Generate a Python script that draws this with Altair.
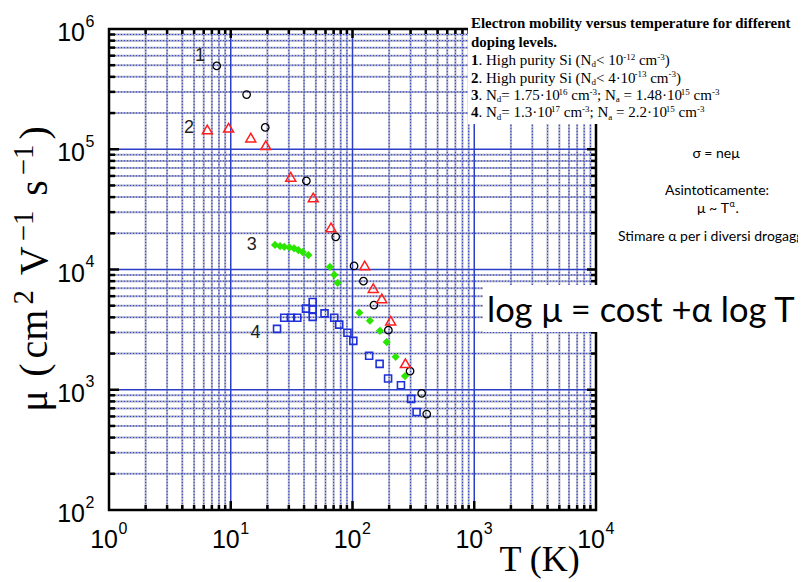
import altair as alt
import pandas as pd

# ---------------- data ----------------
s1_T = [7.67, 13.5, 19.2, 41.8, 72.8, 103, 123, 150, 197, 297, 370, 407]
s1_mu = [4.93e5, 2.85e5, 1.52e5, 5.46e4, 1.87e4, 1.07e4, 8.0e3, 5.06e3, 3.13e3, 1.43e3, 933, 628]

s2_T = [6.42, 9.6, 14.6, 19.4, 31.1, 47.6, 66.6, 126, 148, 174, 206, 272]
s2_mu = [1.46e5, 1.51e5, 1.25e5, 1.08e5, 5.9e4, 3.97e4, 2.24e4, 1.08e4, 7.0e3, 5.75e3, 3.75e3, 1.66e3]

s3_T = [23.1, 25.4, 27.5, 30.3, 33.1, 35.9, 39.0, 43.4, 65.3, 70.9, 75.5, 113.7, 139, 168, 191, 226, 270]
s3_mu = [1.60e4, 1.565e4, 1.544e4, 1.526e4, 1.50e4, 1.45e4, 1.395e4, 1.318e4, 1.05e4, 9.04e3, 7.75e3,
         4.37e3, 3.75e3, 3.09e3, 2.49e3, 1.88e3, 1.30e3]

s4_T = [24.0, 27.5, 31.2, 35.2, 41.5, 47.1, 47.1, 47.1, 58.9, 70.8, 77.8, 90.9, 101.6, 137, 167, 196, 250, 303, 336]
s4_mu = [3.21e3, 3.97e3, 3.97e3, 3.97e3, 4.73e3, 5.36e3, 4.66e3, 4.04e3, 4.32e3, 3.97e3, 3.48e3, 2.98e3,
         2.55e3, 1.92e3, 1.64e3, 1.24e3, 1.09e3, 840, 653]

series_labels = ["1", "2", "3", "4"]
series_label_T = [5.59, 4.54, 14.9, 16.0]
series_label_mu = [5.94e5, 1.49e5, 1.6e4, 2.94e3]

x_decades = [1, 10, 100, 1000, 10000]
y_decades = [100, 1000, 10000, 100000, 1000000]
x_exponents = ["0", "1", "2", "3", "4"]
y_exponents = ["2", "3", "4", "5", "6"]

# ---------------- layout ----------------
W, H = 487, 481
PL, PT, PR, PB = 101, 21, 202, 72
OX, OY = 8 + PL, 8 + PT  # page position of plot origin


def T_of(page_x):
    return 10 ** (4 * (page_x - OX) / W)


def mu_of(page_y):
    return 10 ** (6 - 4 * (page_y - OY) / H)


xs = alt.Scale(type="log", domain=[1, 10000], nice=False)
ys = alt.Scale(type="log", domain=[100, 1e6], nice=False)
X = lambda f: alt.X(f, type="quantitative", scale=xs, axis=None)
Y = lambda f: alt.Y(f, type="quantitative", scale=ys, axis=None)
one = pd.DataFrame({"a": [0]})

minor_x = [d * m for d in x_decades[:-1] for m in range(2, 10)]
major_x = x_decades[1:-1]
minor_y = [d * m for d in y_decades[:-1] for m in range(2, 10)]
major_y = y_decades[1:-1]

gx_minor = pd.DataFrame({"T": minor_x})
gx_major = pd.DataFrame({"T": major_x})
gy_minor = pd.DataFrame({"mu": minor_y})
gy_major = pd.DataFrame({"mu": major_y})

GRAY = "#a8abc8"
BLUE = "#2c3ec8"

layers = []
# grid
layers.append(alt.Chart(gx_minor).mark_rule(color=GRAY, strokeWidth=2).encode(x=X("T")))
layers.append(alt.Chart(gy_minor).mark_rule(color=GRAY, strokeWidth=2).encode(y=Y("mu")))
layers.append(alt.Chart(gx_minor).mark_rule(color=BLUE, strokeWidth=1, strokeDash=[1, 2]).encode(x=X("T")))
layers.append(alt.Chart(gy_minor).mark_rule(color=BLUE, strokeWidth=1, strokeDash=[1, 2]).encode(y=Y("mu")))
layers.append(alt.Chart(gx_major).mark_rule(color=BLUE, strokeWidth=1.5).encode(x=X("T")))
layers.append(alt.Chart(gy_major).mark_rule(color=BLUE, strokeWidth=1.5).encode(y=Y("mu")))


# inward ticks
def tick_layers(df_x, df_y, ln, sw):
    out = []
    out.append(alt.Chart(df_x).mark_rule(color="black", strokeWidth=sw).encode(
        x=X("T"), y=alt.value(H), y2=alt.value(H - ln)))
    out.append(alt.Chart(df_x).mark_rule(color="black", strokeWidth=sw).encode(
        x=X("T"), y=alt.value(0), y2=alt.value(ln)))
    out.append(alt.Chart(df_y).mark_rule(color="black", strokeWidth=sw).encode(
        y=Y("mu"), x=alt.value(0), x2=alt.value(ln + 1)))
    out.append(alt.Chart(df_y).mark_rule(color="black", strokeWidth=sw).encode(
        y=Y("mu"), x=alt.value(W), x2=alt.value(W - ln)))
    return out


layers += tick_layers(gx_minor, gy_minor, 5, 2.5)
layers += tick_layers(gx_major, gy_major, 9, 2.5)

# frame
layers.append(alt.Chart(one).mark_rect(fillOpacity=0, stroke="black", strokeWidth=2.5).encode(
    x=alt.value(0), x2=alt.value(W), y=alt.value(0), y2=alt.value(H)))

# tick labels: "10" plus raised exponent
xl = pd.DataFrame({"T": x_decades, "e": x_exponents, "b": ["10"] * 5})
yl = pd.DataFrame({"mu": y_decades, "e": y_exponents, "b": ["10"] * 5})
LAB_FONT = "Liberation Sans"
layers.append(alt.Chart(xl).mark_text(font=LAB_FONT, fontSize=25, align="right", baseline="alphabetic",
                                      dx=9, color="black").encode(x=X("T"), y=alt.value(H + 38), text="b:N"))
layers.append(alt.Chart(xl).mark_text(font=LAB_FONT, fontSize=16, align="left", baseline="alphabetic",
                                      dx=9.5, color="black").encode(x=X("T"), y=alt.value(H + 24),
                                                                     text="e:N"))
layers.append(alt.Chart(yl).mark_text(font=LAB_FONT, fontSize=25, align="right", baseline="alphabetic",
                                      dy=12, color="black").encode(y=Y("mu"), x=alt.value(-24), text="b:N"))
layers.append(alt.Chart(yl).mark_text(font=LAB_FONT, fontSize=16, align="left", baseline="alphabetic",
                                      dy=-2.5, color="black").encode(y=Y("mu"), x=alt.value(-23.5),
                                                                      text="e:N"))

# series
d1 = pd.DataFrame({"T": s1_T, "mu": s1_mu})
d2 = pd.DataFrame({"T": s2_T, "mu": s2_mu})
d3 = pd.DataFrame({"T": s3_T, "mu": s3_mu})
d4 = pd.DataFrame({"T": s4_T, "mu": s4_mu})
layers.append(alt.Chart(d4).mark_point(shape="square", filled=False, color="#1f30d8", size=49,
                                       strokeWidth=1.6, opacity=1).encode(x=X("T"), y=Y("mu")))
layers.append(alt.Chart(d3).mark_point(shape="diamond", filled=True, color="#2ae600", size=68,
                                       opacity=1).encode(x=X("T"), y=Y("mu")))
layers.append(alt.Chart(d1).mark_point(shape="circle", filled=False, color="black", size=56,
                                       strokeWidth=1.3, opacity=1).encode(x=X("T"), y=Y("mu")))
layers.append(alt.Chart(d2).mark_point(shape="triangle-up", filled=False, color="#ff1e1e", size=100,
                                       strokeWidth=1.5, opacity=1).encode(x=X("T"), y=Y("mu")))

lab_df = pd.DataFrame({"T": series_label_T, "mu": series_label_mu, "t": series_labels})
layers.append(alt.Chart(lab_df).mark_text(font="Liberation Sans", fontSize=18, color="#222222").encode(
    x=X("T"), y=Y("mu"), text="t:N"))

# white boxes behind annotation text
layers.append(alt.Chart(one).mark_rect(fill="white").encode(
    x=alt.value(468 - OX), x2=alt.value(820 - OX), y=alt.value(-40), y2=alt.value(124 - OY)))
layers.append(alt.Chart(one).mark_rect(fill="white").encode(
    x=alt.value(483 - OX), x2=alt.value(820 - OX), y=alt.value(285 - OY), y2=alt.value(332 - OY)))

# ---------------- rich text (Times metrics) ----------------
TR = {" ": 250, "(": 333, ")": 333, "-": 333, ".": 250, ";": 278, "<": 564, "=": 564, "·": 250,
      "H": 722, "N": 722, "S": 556, "V": 722, "K": 722, "T": 611, "μ": 500, "−": 564,
      "a": 444, "b": 500, "c": 444, "d": 500, "e": 444, "f": 333, "g": 500, "h": 500, "i": 278,
      "l": 278, "m": 778, "n": 500, "o": 500, "p": 500, "r": 333, "s": 389, "t": 278, "u": 500,
      "v": 500, "y": 500}
TB = {" ": 250, ".": 250, "E": 667, "a": 500, "b": 556, "c": 444, "d": 556, "e": 444, "f": 333,
      "g": 500, "i": 278, "l": 278, "m": 833, "n": 556, "o": 500, "p": 556, "r": 444, "s": 389,
      "t": 333, "u": 556, "v": 500, "y": 500}


def layout(runs, fs, sup=0.62, gap=0.0):
    frags, dx = [], 0.0
    for text, st in runs:
        if st == "b":
            size, dy, tab, w = fs, 0.0, TB, "bold"
        elif st == "r":
            size, dy, tab, w = fs, 0.0, TR, "normal"
        elif st == "sup":
            size, dy, tab, w = fs * sup, -0.36 * fs, TR, "normal"
        else:
            size, dy, tab, w = fs * sup, 0.16 * fs, TR, "normal"
        lead = len(text) - len(text.lstrip(" "))
        dx += lead * tab[" "] * size / 1000
        body = text.lstrip(" ")
        frags.append(dict(dx=dx, dy=dy, text=body, size=size, weight=w))
        dx += sum(tab.get(c, 500) for c in body) * size / 1000 + gap
    return frags, dx - gap


note_lines = [
    ([("Electron mobility versus temperature for different", "b")], 28.3, 14.9),
    ([("doping levels.", "b")], 46.7, 14.9),
    ([("1", "b"), (". High purity Si (N", "r"), ("d", "sub"), ("< 10", "r"), ("-12", "sup"), (" cm", "r"),
      ("-3", "sup"), (")", "r")], 65.0, 15.0),
    ([("2", "b"), (". High purity Si (N", "r"), ("d", "sub"), ("< 4·10", "r"), ("-13", "sup"), (" cm", "r"),
      ("-3", "sup"), (")", "r")], 82.7, 15.0),
    ([("3", "b"), (". N", "r"), ("d", "sub"), ("= 1.75·10", "r"), ("16", "sup"), (" cm", "r"), ("-3", "sup"),
      ("; N", "r"), ("a", "sub"), (" = 1.48·10", "r"), ("15", "sup"), (" cm", "r"), ("-3", "sup")], 100.0, 15.0),
    ([("4", "b"), (". N", "r"), ("d", "sub"), ("= 1.3·10", "r"), ("17", "sup"), (" cm", "r"), ("-3", "sup"),
      ("; N", "r"), ("a", "sub"), (" = 2.2·10", "r"), ("15", "sup"), (" cm", "r"), ("-3", "sup")], 117.3, 15.0),
]
rows = []
for runs, base, fs in note_lines:
    frs, _ = layout(runs, fs, sup=0.6)
    for f in frs:
        rows.append(dict(T=T_of(471 + f["dx"]), mu=mu_of(base + f["dy"]), text=f["text"], size=f["size"],
                         weight=f["weight"]))
# x axis title
frs, tw = layout([("T (K)", "r")], 36)
for f in frs:
    rows.append(dict(T=T_of(540 - tw / 2 + f["dx"]), mu=mu_of(571 + f["dy"]), text=f["text"], size=f["size"],
                     weight="normal"))
notes = pd.DataFrame(rows)

for wgt in ["normal", "bold"]:
    sub = notes[notes.weight == wgt]
    layers.append(alt.Chart(sub).mark_text(font="Liberation Serif", fontWeight=wgt, align="left",
                                           baseline="alphabetic", color="black").encode(
        x=X("T"), y=Y("mu"), text="text:N", size=alt.Size("size:Q", scale=None, legend=None)))

# rotated y-axis title
yt_runs = [("μ", "r"), (" (", "r"), ("cm", "r"), ("2", "sup"), (" V", "r"), ("−1", "sup"), (" s", "r"),
           ("−1", "sup"), (")", "r")]
frs, tw = layout(yt_runs, 40, sup=0.72, gap=5.0)
yrows = []
for f in frs:
    yrows.append(dict(T=T_of(47 + f["dy"]), mu=mu_of(269 + tw / 2 - f["dx"]), text=f["text"], size=f["size"]))
layers.append(alt.Chart(pd.DataFrame(yrows)).mark_text(font="Liberation Serif", align="left", angle=270,
                                                       baseline="alphabetic", color="black").encode(
    x=X("T"), y=Y("mu"), text="text:N", size=alt.Size("size:Q", scale=None, legend=None)))

# sans annotations on the right
sans_text = ["σ = neμ", "Asintoticamente:", "μ ~ T"]
sans_x = [716, 717, 729]
sans_y = [158, 195, 213]
sans_align = ["center", "center", "right"]
for t, px, py, al in zip(sans_text, sans_x, sans_y, sans_align):
    layers.append(alt.Chart(pd.DataFrame({"T": [T_of(px)], "mu": [mu_of(py)], "t": [t]})).mark_text(
        font="Lato", fontSize=14, align=al, baseline="alphabetic", color="black").encode(
        x=X("T"), y=Y("mu"), text="t:N"))
layers.append(alt.Chart(pd.DataFrame({"T": [T_of(729.5)], "mu": [mu_of(207)], "t": ["α"]})).mark_text(
    font="Lato", fontSize=9, align="left", baseline="alphabetic", color="black").encode(
    x=X("T"), y=Y("mu"), text="t:N"))
layers.append(alt.Chart(pd.DataFrame({"T": [T_of(735.5)], "mu": [mu_of(213)], "t": ["."]})).mark_text(
    font="Lato", fontSize=14, align="left", baseline="alphabetic", color="black").encode(
    x=X("T"), y=Y("mu"), text="t:N"))
layers.append(alt.Chart(pd.DataFrame({"T": [T_of(618)], "mu": [mu_of(241)],
                                      "t": ["Stimare α per i diversi drogaggi"]})).mark_text(
    font="Lato", fontSize=14, align="left", baseline="alphabetic", color="black").encode(
    x=X("T"), y=Y("mu"), text="t:N"))
layers.append(alt.Chart(pd.DataFrame({"T": [T_of(487)], "mu": [mu_of(322)],
                                      "t": ["log μ = cost +α log T"]})).mark_text(
    font="Lato", fontSize=34.5, align="left", baseline="alphabetic", color="black").encode(
    x=X("T"), y=Y("mu"), text="t:N"))

chart = alt.layer(*layers).properties(
    width=W, height=H,
    padding={"left": PL, "top": PT, "right": PR, "bottom": PB},
    autosize=alt.AutoSizeParams(type="none"),
    background="white",
).configure_view(stroke=None)

chart.save("out.html", embed_options={"renderer": "svg", "actions": False})
